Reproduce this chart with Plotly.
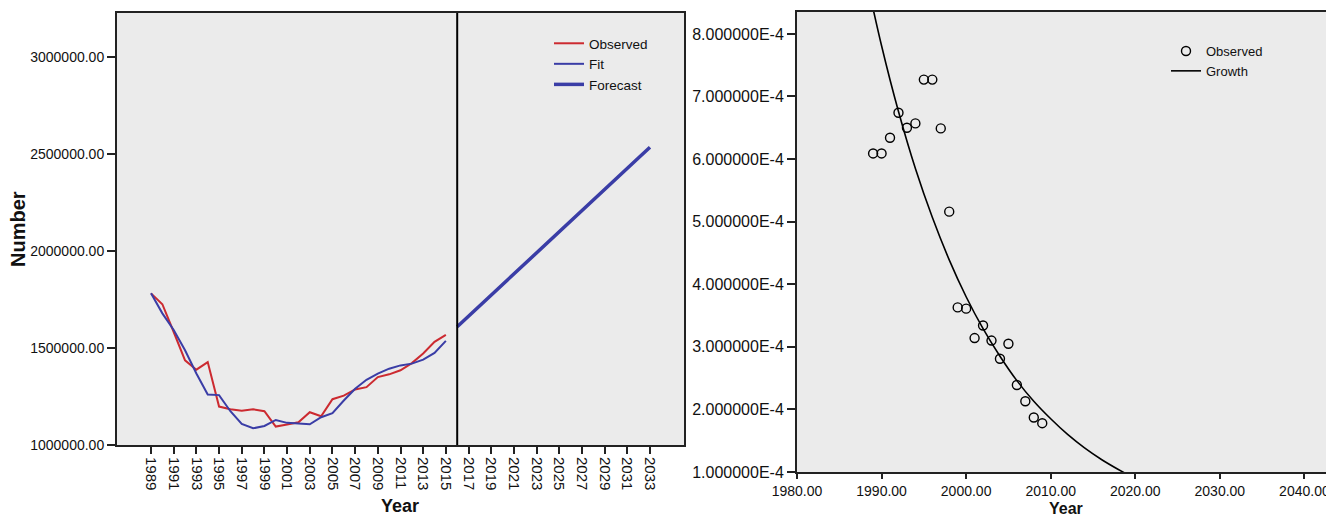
import plotly.graph_objects as go

# ---------------- Left chart data ----------------
years_hist = list(range(1989, 2016))
observed = [1781000, 1725000, 1582000, 1436000, 1388000, 1427000, 1198000, 1184000, 1177000,
            1184000, 1174000, 1095000, 1106000, 1117000, 1169000, 1148000, 1236000, 1254000,
            1286000, 1298000, 1350000, 1364000, 1385000, 1422000, 1471000, 1531000, 1567000]
fit = [1781000, 1678000, 1592000, 1488000, 1368000, 1260000, 1257000, 1174000, 1109000,
       1086000, 1098000, 1129000, 1114000, 1109000, 1107000, 1143000, 1164000, 1229000,
       1290000, 1336000, 1368000, 1393000, 1410000, 1419000, 1440000, 1474000, 1536000]
years_fc = list(range(2016, 2034))
forecast = [1609000, 1663000, 1718000, 1772000, 1826000, 1881000, 1935000, 1990000, 2044000,
            2098000, 2153000, 2207000, 2262000, 2316000, 2370000, 2425000, 2479000, 2534000]
forecast_start = 2016
left_xticks = list(range(1989, 2034, 2))
left_yticks = [1000000, 1500000, 2000000, 2500000, 3000000]

# ---------------- Right chart data ----------------
obs_years = list(range(1989, 2010))
obs_rate = [6.09e-4, 6.09e-4, 6.34e-4, 6.74e-4, 6.50e-4, 6.57e-4, 7.27e-4, 7.27e-4, 6.49e-4,
            5.16e-4, 3.63e-4, 3.61e-4, 3.14e-4, 3.34e-4, 3.10e-4, 2.81e-4, 3.05e-4, 2.39e-4,
            2.13e-4, 1.87e-4, 1.78e-4]
growth_years = [1988, 1990, 1992, 1994, 1996, 1998, 2000, 2002, 2004, 2006, 2008, 2010,
                2012, 2014, 2016, 2018, 2019]
growth_vals = [9.02e-4, 7.81e-4, 6.76e-4, 5.85e-4, 5.07e-4, 4.39e-4, 3.80e-4, 3.29e-4, 2.85e-4,
               2.46e-4, 2.13e-4, 1.85e-4, 1.60e-4, 1.385e-4, 1.20e-4, 1.04e-4, 0.966e-4]
right_xticks = [1980, 1990, 2000, 2010, 2020, 2030, 2040]
right_yticks = [1e-4, 2e-4, 3e-4, 4e-4, 5e-4, 6e-4, 7e-4, 8e-4]
right_yticktext = ["1.000000E-4", "2.000000E-4", "3.000000E-4", "4.000000E-4",
                   "5.000000E-4", "6.000000E-4", "7.000000E-4", "8.000000E-4"]

RED = "#CC2A30"
BLUE = "#3A3DA6"
FONT = "Liberation Sans, Arial, sans-serif"
OFF = 8  # page body margin
W, H = 1334 - OFF, 525 - 2 * OFF

fig = go.Figure()
fig.add_trace(go.Scatter(x=years_hist, y=observed, mode="lines", name="Observed",
                         line=dict(color=RED, width=2), xaxis="x", yaxis="y", legend="legend"))
fig.add_trace(go.Scatter(x=years_hist, y=fit, mode="lines", name="Fit",
                         line=dict(color=BLUE, width=2), xaxis="x", yaxis="y", legend="legend"))
fig.add_trace(go.Scatter(x=years_fc, y=forecast, mode="lines", name="Forecast",
                         line=dict(color=BLUE, width=3.5), xaxis="x", yaxis="y", legend="legend"))

fig.add_trace(go.Scatter(x=obs_years, y=obs_rate, mode="markers", name="Observed",
                         marker=dict(symbol="circle-open", size=9, color="black", line=dict(width=1.4)),
                         xaxis="x2", yaxis="y2", legend="legend2"))
fig.add_trace(go.Scatter(x=growth_years, y=growth_vals, mode="lines", name="Growth",
                         line=dict(color="black", width=1.6, shape="spline"),
                         xaxis="x2", yaxis="y2", legend="legend2"))

def px_x(p):
    return (p - OFF) / W

def px_y(p):
    return 1 - (p - OFF) / H

axis_common = dict(ticks="outside", tickwidth=2, tickcolor="#222", showline=True,
                   linecolor="#222", linewidth=2, showgrid=False, zeroline=False,
                   automargin=False, fixedrange=True)

fig.update_layout(
    width=W, height=H,
    margin=dict(l=0, r=0, t=0, b=0, autoexpand=False),
    paper_bgcolor="white",
    plot_bgcolor="#EBEBEB",
    font=dict(family=FONT, color="#111"),
    xaxis=dict(domain=[px_x(117), px_x(684)], range=[1986, 2036], tickmode="array",
               tickvals=left_xticks, ticktext=[str(v) for v in left_xticks], tickangle=90,
               ticklen=7, mirror=True, tickfont=dict(size=15), anchor="y", **axis_common),
    yaxis=dict(domain=[px_y(445), px_y(13)], range=[1000000, 3225000], tickmode="array",
               tickvals=left_yticks, tickformat=".2f",
               ticklen=8, mirror=True, tickfont=dict(size=14), anchor="x", **axis_common),
    xaxis2=dict(domain=[px_x(797), 1.0], range=[1980, 2043.5], tickmode="array",
                tickvals=right_xticks, tickformat=".2f",
                ticklen=5, mirror=True, tickfont=dict(size=14), anchor="y2", **axis_common),
    yaxis2=dict(domain=[px_y(472), px_y(12)], range=[1e-4, 8.35e-4], tickmode="array",
                tickvals=right_yticks, ticktext=right_yticktext,
                ticklen=8, mirror=False, tickfont=dict(size=16), anchor="x2", **axis_common),
    legend=dict(x=px_x(549), y=px_y(28), xanchor="left", yanchor="top",
                bgcolor="rgba(0,0,0,0)", font=dict(size=13.5), tracegroupgap=0),
    legend2=dict(x=px_x(1166), y=px_y(36), xanchor="left", yanchor="top",
                 bgcolor="rgba(0,0,0,0)", font=dict(size=13), tracegroupgap=0),
    showlegend=True,
)

# divider between observed period and forecast
fig.add_shape(type="line", xref="x", yref="y domain", x0=forecast_start, x1=forecast_start,
              y0=0, y1=1, line=dict(color="black", width=2))

fig.add_annotation(text="<b>Number</b>", xref="paper", yref="paper", x=px_x(18), y=px_y(229),
                   textangle=-90, showarrow=False, font=dict(size=20), xanchor="center", yanchor="middle")
fig.add_annotation(text="<b>Year</b>", xref="paper", yref="paper", x=px_x(400), y=px_y(518),
                   showarrow=False, font=dict(size=18), xanchor="center", yanchor="bottom")
fig.add_annotation(text="<b>Year</b>", xref="paper", yref="paper", x=px_x(1066), y=px_y(519),
                   showarrow=False, font=dict(size=16), xanchor="center", yanchor="bottom")

fig.write_html("out.html")
